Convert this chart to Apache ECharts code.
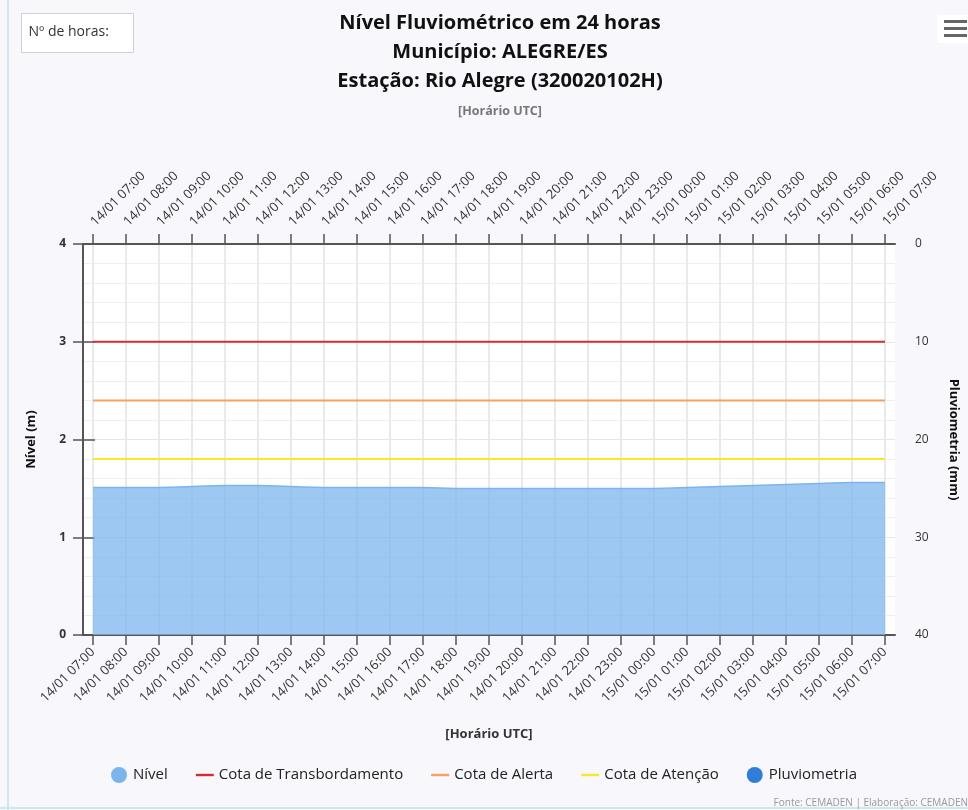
<!DOCTYPE html>
<html>
<head>
    <meta charset="utf-8">
    <title>Nível Fluviométrico</title>
    <style>
        html, body { margin: 0; padding: 0; background-color: #f7f7fc; }
        #chart { width: 968px; height: 810px; }
    </style>
</head>
<body>
<div id="chart"></div>
<script src="https://cdn.jsdelivr.net/npm/echarts@6/dist/echarts.min.js"></script>
<script>
    // horários (UTC)
    var horas = ['14/01 07:00', '14/01 08:00', '14/01 09:00', '14/01 10:00', '14/01 11:00', '14/01 12:00',
        '14/01 13:00', '14/01 14:00', '14/01 15:00', '14/01 16:00', '14/01 17:00', '14/01 18:00',
        '14/01 19:00', '14/01 20:00', '14/01 21:00', '14/01 22:00', '14/01 23:00', '15/01 00:00',
        '15/01 01:00', '15/01 02:00', '15/01 03:00', '15/01 04:00', '15/01 05:00', '15/01 06:00',
        '15/01 07:00'];
    // nível do rio (m)
    var nivel = [1.51, 1.51, 1.51, 1.52, 1.53, 1.53, 1.52, 1.51, 1.51, 1.51, 1.51, 1.50,
        1.50, 1.50, 1.50, 1.50, 1.50, 1.50, 1.51, 1.52, 1.53, 1.54, 1.55, 1.56, 1.56];
    // chuva (mm)
    var pluviometria = [0, 0, 0, 0, 0, 0, 0, 0, 0, 0, 0, 0, 0, 0, 0, 0, 0, 0, 0, 0, 0, 0, 0, 0, 0];
    // cotas (m)
    var cotaTransbordamento = 3.0;
    var cotaAlerta = 2.4;
    var cotaAtencao = 1.8;
    // ticks
    var nivelTicks = [0, 1, 2, 3, 4];
    var chuvaTicks = [0, 10, 20, 30, 40];

    var fonte = '"Open Sans", "DejaVu Sans", sans-serif';
    var escuro = '#555';
    var iconeLinha = 'path://M0,0H18V2.4H0Z';

    function linhaCota(v) {
        return [[horas[0], v], [horas[horas.length - 1], v]];
    }

    var myChart = echarts.init(document.getElementById('chart'));

    var frameX = {
        gridIndex: 0, type: 'value', min: 0, max: 1,
        axisLine: { show: true, lineStyle: { color: escuro, width: 2 } },
        axisTick: { show: false }, axisLabel: { show: false }, splitLine: { show: false }
    };
    var catX = {
        gridIndex: 1, type: 'category', data: horas, boundaryGap: false,
        axisLine: { show: false },
        axisTick: { show: true, length: 10, lineStyle: { color: escuro, width: 1.5 } },
        axisLabel: { rotate: 45, interval: 0, fontSize: 13, color: '#333', fontFamily: fonte },
        splitLine: { show: true, lineStyle: { color: '#e8e8e8', width: 1.5 } }
    };

    option = {
        backgroundColor: '#f7f7fc',
        animation: false,
        textStyle: { fontFamily: fonte },
        title: [
            {
                text: 'Nível Fluviométrico em 24 horas\nMunicípio: ALEGRE/ES\nEstação: Rio Alegre (320020102H)',
                left: 495, top: 4, textAlign: 'center',
                textStyle: { fontSize: 20, fontWeight: 'bold', color: '#111', lineHeight: 29, fontFamily: fonte }
            },
            {
                text: '[Horário UTC]',
                left: 495, top: 100, textAlign: 'center',
                textStyle: { fontSize: 12.5, fontWeight: 'bold', color: '#777', fontFamily: fonte }
            },
            {
                text: 'Fonte: CEMADEN | Elaboração: CEMADEN',
                right: 0, bottom: 2, padding: 0,
                textStyle: { fontSize: 10, fontWeight: 'normal', color: '#999', fontFamily: fonte }
            }
        ],
        legend: {
            bottom: 22, left: 'center', itemGap: 28, itemWidth: 18, itemHeight: 16,
            textStyle: { fontSize: 15, color: '#222', fontWeight: 'normal', fontFamily: fonte },
            data: [
                { name: 'Nível', icon: 'circle' },
                { name: 'Cota de Transbordamento', icon: iconeLinha },
                { name: 'Cota de Alerta', icon: iconeLinha },
                { name: 'Cota de Atenção', icon: iconeLinha },
                { name: 'Pluviometria', icon: 'circle' }
            ]
        },
        graphic: [
            { type: 'line', shape: { x1: 8, y1: 0, x2: 8, y2: 810 }, style: { stroke: '#cfe8f0', lineWidth: 2 } },
            { type: 'line', shape: { x1: 0, y1: 808, x2: 968, y2: 808 }, style: { stroke: '#cfe8f0', lineWidth: 2 } },
            {
                type: 'group', left: 21, top: 13,
                children: [
                    { type: 'rect', shape: { x: 0, y: 0, width: 112, height: 39 }, style: { fill: '#fff', stroke: '#d0d0d0', lineWidth: 1 } },
                    { type: 'text', x: 7, y: 19, style: { text: 'Nº de horas:', fill: '#333', font: '14px ' + fonte, verticalAlign: 'middle' } }
                ]
            },
            {
                type: 'group', right: 0, top: 15,
                children: [
                    { type: 'rect', shape: { x: 0, y: 0, width: 31, height: 28 }, style: { fill: '#fff' } },
                    { type: 'rect', shape: { x: 7, y: 5, width: 23, height: 3 }, style: { fill: '#666' } },
                    { type: 'rect', shape: { x: 7, y: 12, width: 23, height: 3 }, style: { fill: '#666' } },
                    { type: 'rect', shape: { x: 7, y: 19, width: 23, height: 3 }, style: { fill: '#666' } }
                ]
            }
        ],
        grid: [
            { left: 83, right: 67, top: 244, bottom: 175, show: true, backgroundColor: '#fff', borderWidth: 0 },
            { left: 93, right: 83, top: 244, bottom: 175 }
        ],
        xAxis: [
            echarts.util.merge({ position: 'bottom' }, frameX, true),
            echarts.util.merge({ position: 'top' }, frameX, true),
            echarts.util.merge({
                position: 'bottom',
                name: '[Horário UTC]', nameLocation: 'middle', nameGap: 93,
                nameTextStyle: { fontSize: 13, fontWeight: 'bold', color: '#333', fontFamily: fonte },
                axisLabel: { margin: 15 }
            }, catX, true),
            echarts.util.merge({ position: 'top', axisLabel: { margin: 20 } }, catX, true)
        ],
        yAxis: [
            {
                gridIndex: 0, type: 'value', position: 'left',
                min: nivelTicks[0], max: nivelTicks[nivelTicks.length - 1], interval: 1,
                name: 'Nível (m)', nameLocation: 'middle', nameGap: 45, nameRotate: 90,
                nameTextStyle: { fontSize: 13, fontWeight: 'bold', color: '#111', fontFamily: fonte },
                axisLine: { show: true, lineStyle: { color: escuro, width: 2 } },
                axisTick: { show: true, length: 10, lineStyle: { color: escuro, width: 1.5 } },
                axisLabel: { margin: 17, fontSize: 12, fontWeight: 'bold', color: '#333', fontFamily: fonte },
                splitLine: { show: true, lineStyle: { color: '#e6e6e6', width: 1 } },
                minorTick: { show: false, splitNumber: 5 },
                minorSplitLine: { show: true, lineStyle: { color: '#efefef', width: 1 } }
            },
            {
                gridIndex: 0, type: 'value', position: 'right', inverse: true,
                min: chuvaTicks[0], max: chuvaTicks[chuvaTicks.length - 1], interval: 10,
                name: 'Pluviometria (mm)', nameLocation: 'middle', nameGap: 52, nameRotate: -90,
                nameTextStyle: { fontSize: 13, fontWeight: 'bold', color: '#111', fontFamily: fonte },
                axisLine: { show: true, lineStyle: { color: escuro, width: 2 } },
                axisTick: { show: true, length: 12, lineStyle: { color: escuro, width: 1.5 } },
                axisLabel: { margin: 20, fontSize: 12, color: '#333', fontFamily: fonte },
                splitLine: { show: false }
            },
            { gridIndex: 1, type: 'value', show: false, min: 0, max: 4 },
            { gridIndex: 1, type: 'value', show: false, min: 0, max: 40, inverse: true }
        ],
        series: [
            {
                name: 'Nível', type: 'line', xAxisIndex: 2, yAxisIndex: 2,
                data: nivel, smooth: true, symbol: 'none',
                itemStyle: { color: '#7cb5ec' },
                lineStyle: { color: '#7cb5ec', width: 1.5 },
                areaStyle: { color: '#7cb5ec', opacity: 0.75 }
            },
            {
                name: 'Cota de Transbordamento', type: 'line', xAxisIndex: 2, yAxisIndex: 2,
                data: linhaCota(cotaTransbordamento), symbol: 'none',
                itemStyle: { color: '#d32f2f' }, lineStyle: { color: '#d32f2f', width: 2 }
            },
            {
                name: 'Cota de Alerta', type: 'line', xAxisIndex: 2, yAxisIndex: 2,
                data: linhaCota(cotaAlerta), symbol: 'none',
                itemStyle: { color: '#f4a261' }, lineStyle: { color: '#f4a261', width: 2 }
            },
            {
                name: 'Cota de Atenção', type: 'line', xAxisIndex: 2, yAxisIndex: 2,
                data: linhaCota(cotaAtencao), symbol: 'none',
                itemStyle: { color: '#f5e92a' }, lineStyle: { color: '#f5e92a', width: 2 }
            },
            {
                name: 'Pluviometria', type: 'bar', xAxisIndex: 2, yAxisIndex: 3,
                data: pluviometria, barWidth: '40%',
                itemStyle: { color: '#2f7ed8' }
            }
        ]
    };

    myChart.setOption(option);
</script>
</body>
</html>
